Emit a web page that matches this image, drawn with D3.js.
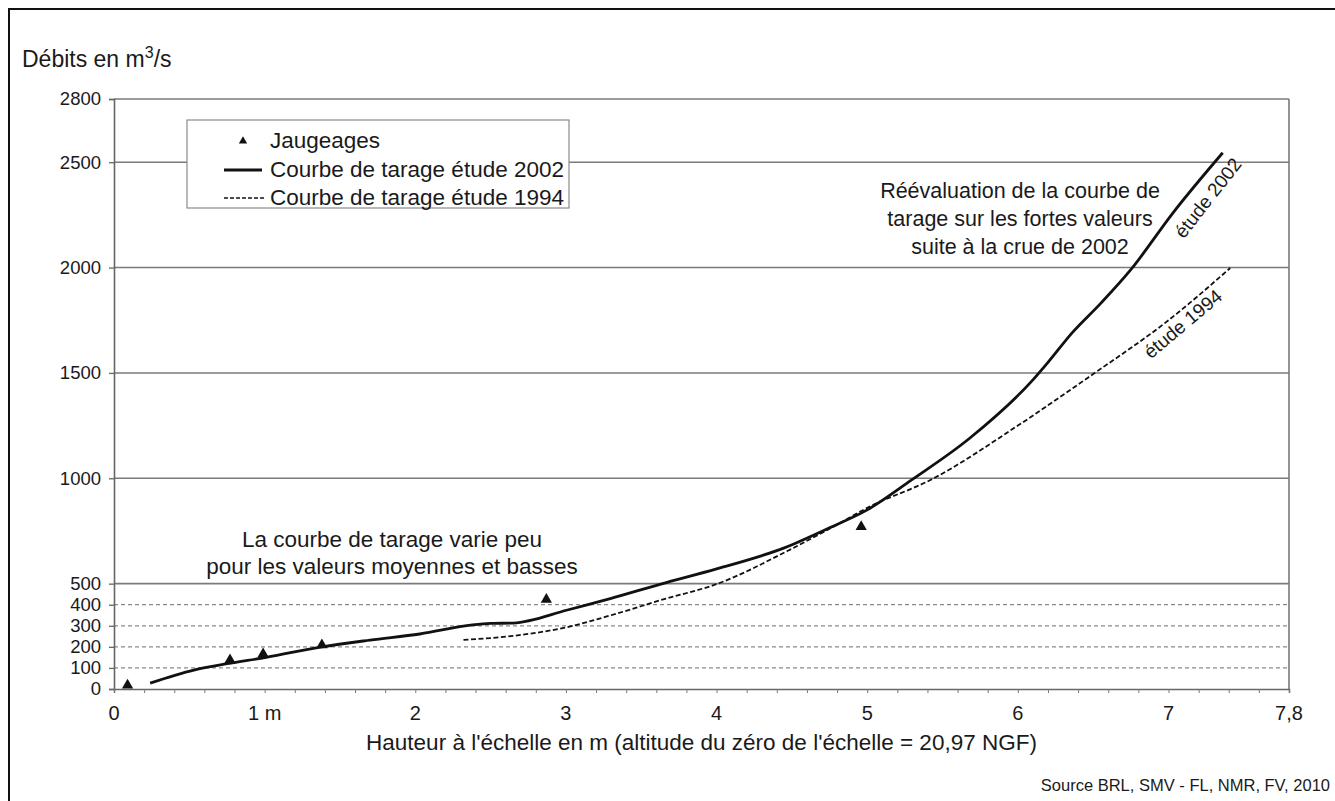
<!DOCTYPE html>
<html>
<head>
<meta charset="utf-8">
<script src="https://cdn.jsdelivr.net/npm/d3@7"></script>
<style>
  body { margin: 0; background: #fff; }
  text { font-family: Arial, "Liberation Sans", sans-serif; fill: #1a1a1a; }
</style>
</head>
<body>
<svg id="chart" width="1335" height="801"></svg>
<script>
// Jaugeages (gauging measurements): stage in m, discharge in m3/s
const jaugeH = [0.09, 0.77, 0.99, 1.38, 2.87, 4.96];
const jaugeQ = [18, 138, 166, 209, 425, 770];

// Rating curve, 2002 study
const curve2002H = [0.24, 0.53, 0.75, 1.01, 1.38, 1.7, 2.03, 2.38, 2.5, 2.65, 3.01, 3.3, 3.63, 4.0, 4.45, 4.75, 5.0, 5.29, 5.68, 6.1, 6.2, 6.36, 6.55, 6.75, 7.03, 7.36];
const curve2002Q = [28, 90, 120, 150, 200, 232, 261, 304, 311, 313, 375, 430, 498, 570, 670, 765, 850, 990, 1190, 1467, 1550, 1690, 1830, 1990, 2260, 2545];

// Rating curve, 1994 study
const curve1994H = [2.32, 2.65, 3.01, 3.3, 3.63, 4.02, 4.47, 4.8, 5.0, 5.42, 6.0, 6.47, 7.0, 7.41];
const curve1994Q = [233, 252, 294, 350, 422, 503, 655, 780, 860, 992, 1250, 1480, 1750, 1998];

// Axis ticks and grid levels
const yTickValues = [0, 100, 200, 300, 400, 500, 1000, 1500, 2000, 2500, 2800];
const yMajorGrid = [500, 1000, 1500, 2000, 2500, 2800];
const yMinorGrid = [100, 200, 300, 400];
const xTickValues = [0, 1, 2, 3, 4, 5, 6, 7, 7.8];
const xTickLabels = ["0", "1 m", "2", "3", "4", "5", "6", "7", "7,8"];
const xMinorStep = 0.2;

const svg = d3.select("#chart");
const W = 1335, H = 801;
const plot = { left: 114, right: 1289, top: 99, bottom: 689 };

const x = d3.scaleLinear().domain([0, 7.8]).range([plot.left, plot.right]);
const y = d3.scaleLinear().domain([0, 2800]).range([plot.bottom, plot.top]);

// outer frame (runs off the right and bottom edges)
svg.append("rect")
  .attr("x", 9).attr("y", 9)
  .attr("width", W + 20).attr("height", H + 20)
  .attr("fill", "#fff").attr("stroke", "#111").attr("stroke-width", 2);

// horizontal grid
svg.append("g").selectAll("line").data(yMinorGrid).join("line")
  .attr("x1", plot.left).attr("x2", plot.right)
  .attr("y1", d => y(d)).attr("y2", d => y(d))
  .attr("stroke", "#8a8a8a").attr("stroke-width", 1.2)
  .attr("stroke-dasharray", "4,3");

svg.append("g").selectAll("line").data(yMajorGrid).join("line")
  .attr("x1", plot.left).attr("x2", plot.right)
  .attr("y1", d => y(d)).attr("y2", d => y(d))
  .attr("stroke", "#7a7a7a").attr("stroke-width", 1.6);

// right border of plot area
svg.append("line")
  .attr("x1", plot.right).attr("x2", plot.right)
  .attr("y1", plot.top).attr("y2", plot.bottom)
  .attr("stroke", "#7a7a7a").attr("stroke-width", 1.6);

// Y axis
const yAxis = d3.axisLeft(y).tickValues(yTickValues).tickSize(5).tickPadding(8)
  .tickFormat(d3.format("d"));
const gy = svg.append("g").attr("transform", `translate(${plot.left},0)`).call(yAxis);
gy.select(".domain").attr("stroke", "#666").attr("stroke-width", 1.6);
gy.selectAll(".tick line").attr("stroke", "#666").attr("stroke-width", 1.3);
gy.selectAll(".tick text").attr("font-size", 18.5).attr("fill", "#1a1a1a")
  .attr("font-family", "Arial, 'Liberation Sans', sans-serif");

// X axis: minor ticks every 0.2 m, labels on whole metres and at 7,8
const minorTicks = d3.range(0, 7.8 + 1e-9, xMinorStep).map(v => +v.toFixed(1));
const xAxis = d3.axisBottom(x).tickValues(minorTicks).tickSize(4).tickFormat("");
const gx = svg.append("g").attr("transform", `translate(0,${plot.bottom})`).call(xAxis);
gx.select(".domain").attr("stroke", "#666").attr("stroke-width", 1.6);
gx.selectAll(".tick line").attr("stroke", "#777").attr("stroke-width", 1);

svg.append("g").selectAll("text").data(xTickValues).join("text")
  .attr("x", d => x(d)).attr("y", plot.bottom + 31)
  .attr("text-anchor", "middle").attr("font-size", 20)
  .text((d, i) => xTickLabels[i]);

// curves
const line = d3.line().x(d => x(d[0])).y(d => y(d[1])).curve(d3.curveMonotoneX);

svg.append("path")
  .datum(curve1994H.map((h, i) => [h, curve1994Q[i]]))
  .attr("d", line).attr("fill", "none")
  .attr("stroke", "#111").attr("stroke-width", 1.8)
  .attr("stroke-dasharray", "5,2.5");

svg.append("path")
  .datum(curve2002H.map((h, i) => [h, curve2002Q[i]]))
  .attr("d", line).attr("fill", "none")
  .attr("stroke", "#111").attr("stroke-width", 2.8);

// gauging points
const tri = d3.symbol().type(d3.symbolTriangle).size(55);
svg.append("g").selectAll("path").data(jaugeH.map((h, i) => [h, jaugeQ[i]])).join("path")
  .attr("d", tri)
  .attr("transform", d => `translate(${x(d[0])},${y(d[1])})`)
  .attr("fill", "#111");

// labels along the curves
svg.append("text")
  .attr("transform", "translate(1208,198) rotate(-52)")
  .attr("text-anchor", "middle").attr("dominant-baseline", "central")
  .attr("font-size", 19).text("étude 2002");
svg.append("text")
  .attr("transform", "translate(1183,324) rotate(-40)")
  .attr("text-anchor", "middle").attr("dominant-baseline", "central")
  .attr("font-size", 19).text("étude 1994");

// annotations
const noteHigh = ["Réévaluation de la courbe de", "tarage sur les fortes valeurs", "suite à la crue de 2002"];
svg.append("g").selectAll("text").data(noteHigh).join("text")
  .attr("x", 1020).attr("y", (d, i) => 198 + i * 28)
  .attr("text-anchor", "middle").attr("font-size", 21.5).text(d => d);

const noteLow = ["La courbe de tarage varie peu", "pour les valeurs moyennes et basses"];
svg.append("g").selectAll("text").data(noteLow).join("text")
  .attr("x", 392).attr("y", (d, i) => 547 + i * 27)
  .attr("text-anchor", "middle").attr("font-size", 22.5).text(d => d);

// legend
const lg = svg.append("g");
lg.append("rect").attr("x", 187).attr("y", 120).attr("width", 382).attr("height", 88)
  .attr("fill", "#fff").attr("stroke", "#8a8a8a").attr("stroke-width", 1.2);
lg.append("path").attr("d", d3.symbol().type(d3.symbolTriangle).size(30))
  .attr("transform", "translate(243,141)").attr("fill", "#111");
lg.append("text").attr("x", 270).attr("y", 148).attr("font-size", 22.5).text("Jaugeages");
lg.append("line").attr("x1", 224).attr("x2", 262).attr("y1", 170).attr("y2", 170)
  .attr("stroke", "#111").attr("stroke-width", 2.8);
lg.append("text").attr("x", 270).attr("y", 177).attr("font-size", 22.5).text("Courbe de tarage étude 2002");
lg.append("line").attr("x1", 224).attr("x2", 264).attr("y1", 198).attr("y2", 198)
  .attr("stroke", "#111").attr("stroke-width", 1.5).attr("stroke-dasharray", "4,2");
lg.append("text").attr("x", 270).attr("y", 205).attr("font-size", 22.5).text("Courbe de tarage étude 1994");

// axis titles
const yt = svg.append("text").attr("x", 22).attr("y", 67).attr("font-size", 23);
yt.append("tspan").text("Débits en m");
yt.append("tspan").attr("font-size", 16).attr("dy", -9).text("3");
yt.append("tspan").attr("dy", 9).text("/s");

svg.append("text").attr("x", (plot.left + plot.right) / 2).attr("y", 750)
  .attr("text-anchor", "middle").attr("font-size", 22.5)
  .text("Hauteur à l'échelle en m (altitude du zéro de l'échelle = 20,97 NGF)");

// source
svg.append("text").attr("x", 1330).attr("y", 791)
  .attr("text-anchor", "end").attr("font-size", 16.5)
  .text("Source BRL, SMV - FL, NMR, FV, 2010");
</script>
</body>
</html>
